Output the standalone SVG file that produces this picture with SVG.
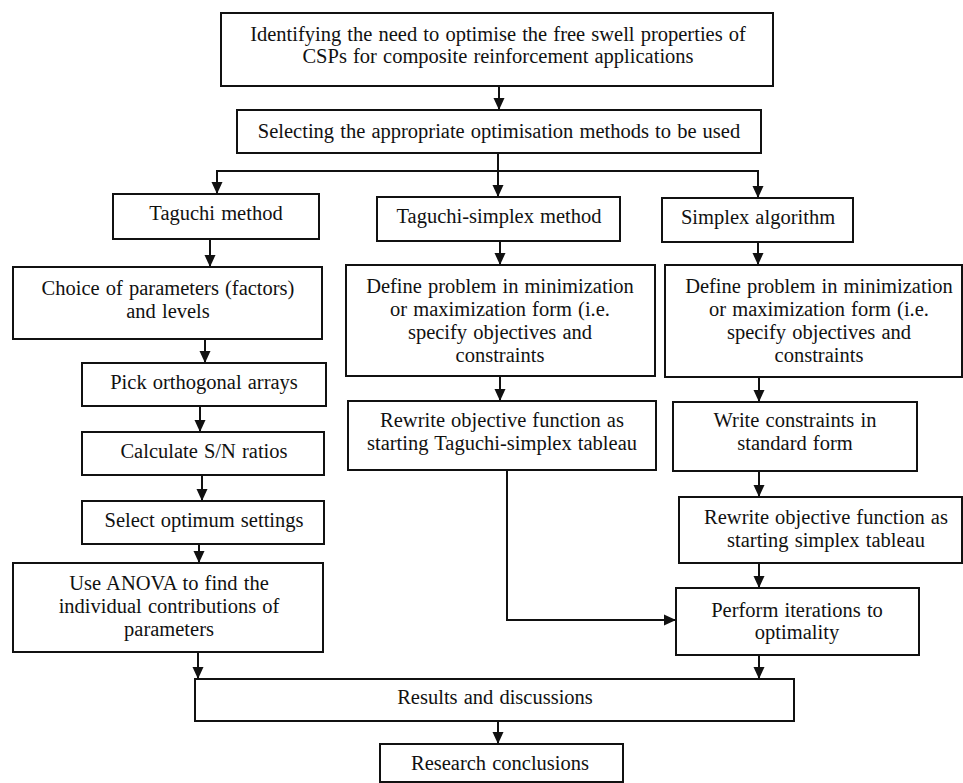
<svg xmlns="http://www.w3.org/2000/svg" width="963" height="783" viewBox="0 0 963 783">
<style>
.box{fill:#fff;stroke:#111;stroke-width:2}
.t{font-family:"Liberation Serif","Times New Roman",serif;font-size:20.5px;word-spacing:1px;fill:#111;text-anchor:middle}
.c{fill:none;stroke:#111;stroke-width:2}
</style>
<defs>
<marker id="ah" markerUnits="userSpaceOnUse" markerWidth="12" markerHeight="12" refX="12" refY="6" orient="auto">
<path d="M0,0.5 L12,6 L0,11.5 z" fill="#111"/>
</marker>
</defs>
<rect width="963" height="783" fill="#fff"/>
<g id="connectors">
<line class="c" x1="499" y1="86" x2="499" y2="110" marker-end="url(#ah)"/>
<line class="c" x1="498" y1="153" x2="498" y2="197" marker-end="url(#ah)"/>
<polyline class="c" points="217,171 758,171 758,198" marker-end="url(#ah)"/>
<line class="c" x1="217" y1="170" x2="217" y2="194" marker-end="url(#ah)"/>
<line class="c" x1="210" y1="239" x2="210" y2="267" marker-end="url(#ah)"/>
<line class="c" x1="500" y1="241" x2="500" y2="265" marker-end="url(#ah)"/>
<line class="c" x1="758" y1="242" x2="758" y2="265" marker-end="url(#ah)"/>
<line class="c" x1="205" y1="339" x2="205" y2="363" marker-end="url(#ah)"/>
<line class="c" x1="200" y1="406" x2="200" y2="432" marker-end="url(#ah)"/>
<line class="c" x1="202" y1="475" x2="202" y2="501" marker-end="url(#ah)"/>
<line class="c" x1="199" y1="544" x2="199" y2="563" marker-end="url(#ah)"/>
<line class="c" x1="500" y1="376" x2="500" y2="401" marker-end="url(#ah)"/>
<line class="c" x1="759" y1="377" x2="759" y2="402" marker-end="url(#ah)"/>
<line class="c" x1="759" y1="471" x2="759" y2="497" marker-end="url(#ah)"/>
<line class="c" x1="759" y1="563" x2="759" y2="588" marker-end="url(#ah)"/>
<polyline class="c" points="507,470 507,620 676,620" marker-end="url(#ah)"/>
<line class="c" x1="198" y1="652" x2="198" y2="679" marker-end="url(#ah)"/>
<line class="c" x1="759" y1="655" x2="759" y2="679" marker-end="url(#ah)"/>
<line class="c" x1="498" y1="721" x2="498" y2="744" marker-end="url(#ah)"/>
</g>
<g id="n-identify">
<rect class="box" x="221" y="13" width="552" height="73"/>
<text class="t" x="498" y="41">Identifying the need to optimise the free swell properties of</text>
<text class="t" x="498" y="63">CSPs for composite reinforcement applications</text>
</g>
<g id="n-selecting">
<rect class="box" x="237" y="110" width="524" height="43"/>
<text class="t" x="499" y="138">Selecting the appropriate optimisation methods to be used</text>
</g>
<g id="n-taguchi">
<rect class="box" x="113" y="194" width="206" height="45"/>
<text class="t" x="216" y="220">Taguchi method</text>
</g>
<g id="n-tsimplex">
<rect class="box" x="377" y="197" width="243" height="44"/>
<text class="t" x="499" y="223">Taguchi-simplex method</text>
</g>
<g id="n-simplex">
<rect class="box" x="662" y="198" width="191" height="44"/>
<text class="t" x="758" y="224">Simplex algorithm</text>
</g>
<g id="n-choice">
<rect class="box" x="13" y="267" width="309" height="72"/>
<text class="t" x="168" y="295">Choice of parameters (factors)</text>
<text class="t" x="168" y="318">and levels</text>
</g>
<g id="n-define1">
<rect class="box" x="346" y="265" width="309" height="111"/>
<text class="t" x="500" y="293">Define problem in minimization</text>
<text class="t" x="500" y="316">or maximization form (i.e.</text>
<text class="t" x="500" y="339">specify objectives and</text>
<text class="t" x="500" y="362">constraints</text>
</g>
<g id="n-define2">
<rect class="box" x="665" y="265" width="297" height="112"/>
<text class="t" x="819" y="293">Define problem in minimization</text>
<text class="t" x="819" y="316">or maximization form (i.e.</text>
<text class="t" x="819" y="339">specify objectives and</text>
<text class="t" x="819" y="362">constraints</text>
</g>
<g id="n-pick">
<rect class="box" x="82" y="363" width="244" height="43"/>
<text class="t" x="204" y="389">Pick orthogonal arrays</text>
</g>
<g id="n-calc">
<rect class="box" x="82" y="432" width="242" height="43"/>
<text class="t" x="204" y="458">Calculate S/N ratios</text>
</g>
<g id="n-select">
<rect class="box" x="82" y="501" width="242" height="43"/>
<text class="t" x="204" y="527">Select optimum settings</text>
</g>
<g id="n-anova">
<rect class="box" x="13" y="563" width="310" height="89"/>
<text class="t" x="169" y="590">Use ANOVA to find the</text>
<text class="t" x="169" y="613">individual contributions of</text>
<text class="t" x="169" y="636">parameters</text>
</g>
<g id="n-rewrite1">
<rect class="box" x="348" y="401" width="308" height="69"/>
<text class="t" x="502" y="427">Rewrite objective function as</text>
<text class="t" x="502" y="450">starting Taguchi-simplex tableau</text>
</g>
<g id="n-write">
<rect class="box" x="673" y="402" width="244" height="69"/>
<text class="t" x="795" y="427">Write constraints in</text>
<text class="t" x="795" y="450">standard form</text>
</g>
<g id="n-rewrite2">
<rect class="box" x="679" y="497" width="283" height="66"/>
<text class="t" x="826" y="524">Rewrite objective function as</text>
<text class="t" x="826" y="547">starting simplex tableau</text>
</g>
<g id="n-perform">
<rect class="box" x="676" y="588" width="243" height="67"/>
<text class="t" x="797" y="617">Perform iterations to</text>
<text class="t" x="797" y="639">optimality</text>
</g>
<g id="n-results">
<rect class="box" x="195" y="679" width="599" height="42"/>
<text class="t" x="495" y="704">Results and discussions</text>
</g>
<g id="n-research">
<rect class="box" x="380" y="744" width="243" height="38"/>
<text class="t" x="500" y="770">Research conclusions</text>
</g>
</svg>
